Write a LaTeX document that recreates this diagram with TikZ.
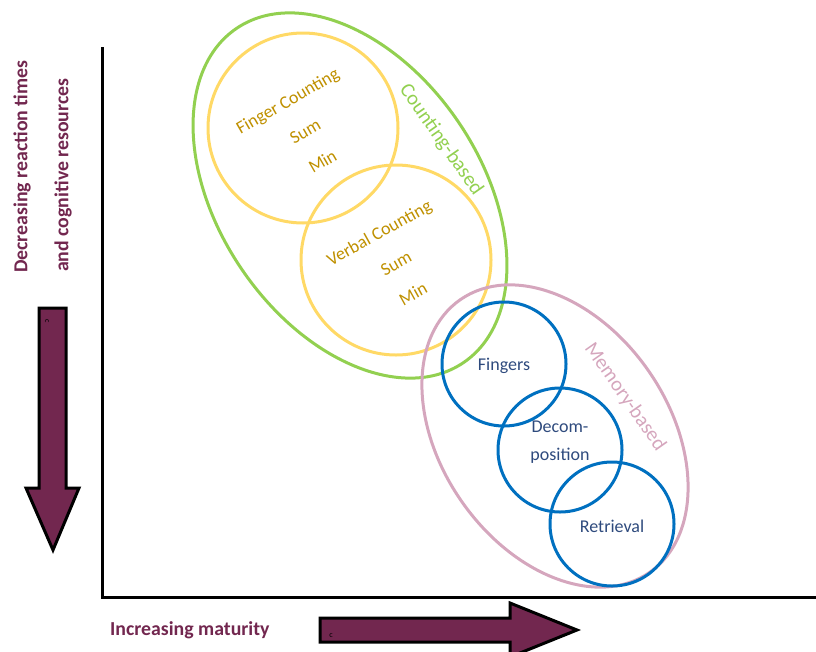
\documentclass[tikz,border=0pt]{standalone}
\usepackage{fontspec}
\setmainfont{Carlito}
\usetikzlibrary{shapes.geometric}
\definecolor{cgreen}{HTML}{92D050}
\definecolor{cyellow}{HTML}{FFD966}
\definecolor{cgold}{HTML}{BF9000}
\definecolor{cpink}{HTML}{D5A6BD}
\definecolor{cblue}{HTML}{0070C0}
\definecolor{cnavy}{HTML}{2E4A7D}
\definecolor{cmaroon}{HTML}{72274F}
\tikzset{
  axisline/.style={line width=3pt, line join=miter},
  blockarrow/.style={fill=cmaroon, draw=black, line width=3pt, line join=miter},
  axislabel/.style={text=cmaroon, font=\fontsize{19.8}{22}\selectfont\bfseries, inner sep=0pt},
  group/.style={ellipse, draw, line width=3pt, inner sep=0pt},
  strategy/.style={circle, draw, line width=3pt, inner sep=0pt},
  yellowtext/.style={text=cgold, align=center, font=\fontsize{18}{35}\selectfont, inner sep=0pt},
  bluetext/.style={text=cnavy, align=center, font=\fontsize{18}{28}\selectfont, inner sep=0pt},
  grouplabel/.style={font=\fontsize{20.5}{24}\selectfont, inner sep=0pt},
  tinymark/.style={text=black, font=\fontsize{8}{8}\selectfont, inner sep=0pt}
}
\begin{document}
\begin{tikzpicture}[x=1pt, y=-1pt]
\useasboundingbox (0,0) rectangle (816,651);

% axes
\coordinate (ytop) at (102,47);
\coordinate (origin) at (102,597);
\coordinate (xend) at (816,597);
\draw[axisline] (ytop) -- (origin) -- (xend);

% block arrows along the axes
\draw[blockarrow] (39,308) -- (66,308) -- (66,488) -- (79,488) -- (53,550)
  -- (26,488) -- (39,488) -- cycle;
\node[tinymark, rotate=-90] (dmark) at (47,321) {c};
\draw[blockarrow] (320,618) -- (510,618) -- (510,603) -- (577,630) -- (510,657)
  -- (510,642) -- (320,642) -- cycle;
\node[tinymark] (rmark) at (331,636) {c};

% axis labels
\node[axislabel, rotate=90, anchor=west] (ylab1) at (22,273) {Decreasing reaction times};
\node[axislabel, rotate=90, anchor=west] (ylab2) at (63,272) {and cognitive resources};
\node[axislabel, anchor=west] (xlab) at (110,630) {Increasing maturity};

% counting-based strategies
\node[group, draw=cgreen, minimum width=404pt, minimum height=262pt, rotate=-55.8]
  (counting) at (350,195.5) {};
\node[strategy, draw=cyellow, minimum size=190pt] (finger) at (303,128) {};
\node[strategy, draw=cyellow, minimum size=190pt] (verbal) at (396,260) {};
\node[yellowtext, rotate=30] (fingertxt) at (305,131) {Finger Counting\\Sum\\Min};
\node[yellowtext, rotate=29] (verbaltxt) at (396,263) {Verbal Counting\\Sum\\Min};
\node[grouplabel, text=cgreen, rotate=-55] (countlab) at (441,140) {Counting-based};

% memory-based strategies
\node[group, draw=cpink, minimum width=332pt, minimum height=228pt, rotate=-55.3]
  (memory) at (555,436) {};
\node[strategy, draw=cblue, minimum size=124pt] (fingers) at (504,364) {};
\node[strategy, draw=cblue, minimum size=124pt] (decomp) at (560,450) {};
\node[strategy, draw=cblue, minimum size=124pt] (retrieval) at (612,524) {};
\node[bluetext] (fingerstxt) at (504,366) {Fingers};
\node[bluetext] (decomptxt) at (560,442) {Decom-\\position};
\node[bluetext] (retrievaltxt) at (612,526) {Retrieval};
\node[grouplabel, text=cpink, rotate=-55] (memlab) at (625,397) {Memory-based};
\end{tikzpicture}
\end{document}
